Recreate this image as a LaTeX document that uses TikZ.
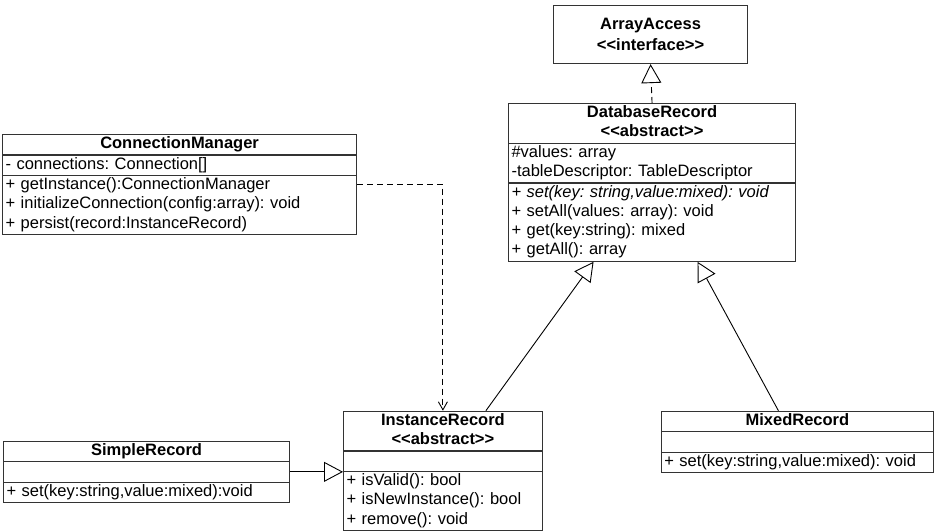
\documentclass[tikz,border=0pt]{standalone}
\usepackage{fontspec}
\setmainfont{Liberation Sans}
\usetikzlibrary{shapes.multipart,arrows.meta}
\newcommand{\umlstereo}[1]{<\kern0pt<#1>\kern0pt>}
\newcommand{\umlhead}[1]{\makebox[\hsize]{\strut\textbf{#1}}}

\begin{document}
\begin{tikzpicture}[
        x=1pt, y=-1pt,
        umlclass/.style={rectangle split, rectangle split parts=3, draw=black!80, line width=1.1pt, anchor=north west, align=left, inner xsep=3pt, inner ysep=0pt, font=\fontsize{16.5}{19.3}\selectfont\frenchspacing},
        iface/.style={rectangle, draw=black!80, line width=1.1pt, anchor=north west, align=center, inner sep=0pt, font=\fontsize{16.5}{21}\selectfont\bfseries},
        inherit/.style={-{Triangle[open, length=19pt, width=20pt]}, line width=0.9pt},
        realize/.style={inherit, dash pattern=on 6pt off 4pt},
        depend/.style={-{Straight Barb[length=8pt, width=9pt]}, line width=0.9pt, dash pattern=on 6pt off 4pt}
    ]
\useasboundingbox (0,0) rectangle (936,530);

% Top
        \node[iface, minimum width=194pt, minimum height=58pt] (aa) at (553,5) {ArrayAccess\\\umlstereo{interface}};
        \node[umlclass, text width=281pt] (db) at (508,103) {\umlhead{DatabaseRecord}\\\umlhead{\umlstereo{abstract}}
            \nodepart{two}\strut\#values: array\\\strut-tableDescriptor: TableDescriptor
            \nodepart{three}\strut\textit{+ set(key: string,value:mixed): void}\\\strut+ setAll(values: array): void\\\strut+ get(key:string): mixed\\\strut+ getAll(): array};
        \node[umlclass, text width=348pt] (cm) at (2,134) {\umlhead{ConnectionManager}
            \nodepart{two}\strut- connections: Connection[]
            \nodepart{three}\strut+ getInstance():ConnectionManager\\\strut+ initializeConnection(config:array): void\\\strut+ persist(record:InstanceRecord)};

% Bottom
        \node[umlclass, text width=280pt] (sr) at (3,440.7) {\umlhead{SimpleRecord}
            \nodepart{two}\strut
            \nodepart{three}\strut+ set(key:string,value:mixed):void};
        \node[umlclass, text width=192.7pt] (inst) at (343,410.7) {\umlhead{InstanceRecord}\\\umlhead{\umlstereo{abstract}}
            \nodepart{two}\strut
            \nodepart{three}\strut+ isValid(): bool\\\strut+ isNewInstance(): bool\\\strut+ remove(): void};
        \node[umlclass, text width=266.3pt] (mixed) at (660.7,410.7) {\umlhead{MixedRecord}
            \nodepart{two}\strut
            \nodepart{three}\strut+ set(key:string,value:mixed): void};

% Arrows
        \draw[realize] (db.north) -- (aa.south);
        \draw[depend] (cm.east) -| (inst.north);
        \draw[inherit] (sr.east) -- (sr.east -| inst.west);
        \draw[inherit] ([xshift=43pt]inst.north) -- ([xshift=-58.5pt]db.south);
        \draw[inherit] ([xshift=-19pt]mixed.north) -- ([xshift=45.5pt]db.south);
\end{tikzpicture}
\end{document}
